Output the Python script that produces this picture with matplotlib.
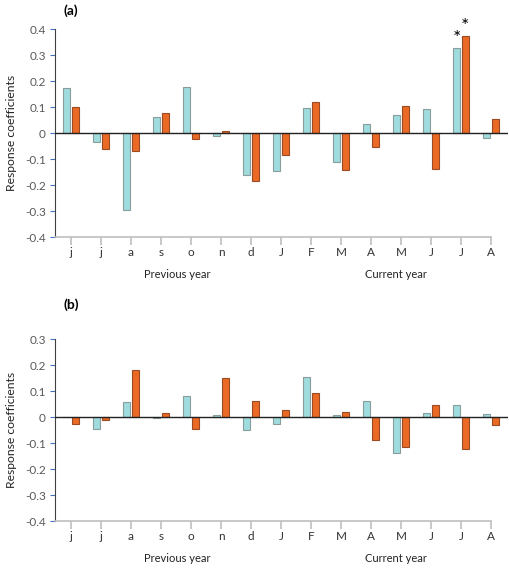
import matplotlib.pyplot as plt
import numpy as np

plt.rcParams['font.family'] = ['Lato', 'DejaVu Sans']

months = ['j', 'j', 'a', 's', 'o', 'n', 'd', 'J', 'F', 'M', 'A', 'M', 'J', 'J', 'A']

# panel (a)
a_cyan = [0.173, -0.033, -0.297, 0.062, 0.178, -0.012, -0.162, -0.147, 0.098,
          -0.112, 0.035, 0.070, 0.091, 0.326, -0.019]
a_orange = [0.100, -0.062, -0.070, 0.078, -0.022, 0.008, -0.185, -0.083, 0.121,
            -0.143, -0.055, 0.103, -0.137, 0.372, 0.052]
a_signif_cyan = [13]
a_signif_orange = [13]

# panel (b)
b_cyan = [0.0, -0.047, 0.056, -0.004, 0.080, 0.009, -0.051, -0.026, 0.153,
          0.009, 0.063, -0.137, 0.014, 0.046, 0.010]
b_orange = [-0.028, -0.013, 0.182, 0.015, -0.047, 0.150, 0.062, 0.026, 0.092,
            0.019, -0.090, -0.117, 0.047, -0.124, -0.032]

cyan = '#9edcdd'
cyan_edge = '#8a9c9c'
orange = '#ea6a25'
orange_edge = '#9a4a25'
grey = '#595959'

W, H = 509, 571
fig = plt.figure(figsize=(W / 100, H / 100), dpi=100)


def panel(top, bottom, ymax, c, o, stars_c=(), stars_o=()):
    left, right = 55, 508
    ax = fig.add_axes([left / W, 1 - bottom / H, (right - left) / W, (bottom - top) / H])
    x = np.arange(len(months))
    w = 0.25
    ax.bar(x - w / 2 - 0.02, c, w, color=cyan, edgecolor=cyan_edge, linewidth=0.8, zorder=2)
    ax.bar(x + w / 2 + 0.02, o, w, color=orange, edgecolor=orange_edge, linewidth=0.8, zorder=2)
    ax.set_xlim(-0.533, 14.57)
    ax.set_ylim(-0.4, ymax)
    ax.axhline(0, color='#222222', lw=1.0, zorder=3)
    for s in ['top', 'right', 'bottom']:
        ax.spines[s].set_visible(False)
    ax.spines['left'].set_color('#404040')
    ax.spines['left'].set_linewidth(0.8)
    ax.plot([-0.533, 14], [-0.4, -0.4], color='#bfbfbf', lw=1.2, clip_on=False, zorder=3)
    yt = np.round(np.arange(-0.4, ymax + 0.01, 0.1), 1)
    ax.set_yticks(yt)
    ax.set_yticklabels(['0' if abs(v) < 1e-9 else ('%.1f' % v) for v in yt])
    ax.tick_params(axis='y', colors='#4472c4', length=3.5, width=0.8, labelsize=8.5,
                   labelcolor=grey, pad=3)
    ax.set_xticks(x)
    ax.set_xticklabels(months)
    ax.tick_params(axis='x', colors='#bfbfbf', length=5.5, width=1.2, labelsize=8.5,
                   labelcolor='#333333', pad=2)
    ax.set_ylabel('Response coefficients', fontsize=8.7, color='#222222', labelpad=6)
    for xc, txt in [(3.53, 'Previous year'), (10.83, 'Current year')]:
        ax.annotate(txt, (xc, -0.4), xytext=(0, -38 * 0.72), textcoords='offset points',
                    ha='center', va='center', fontsize=8, color='#222222',
                    annotation_clip=False)
    for i in stars_c:
        ax.text(i - w / 2 - 0.02, c[i] + 0.005, '*', ha='center', va='bottom', fontsize=14)
    for i in stars_o:
        ax.text(i + w / 2 + 0.02, o[i] + 0.005, '*', ha='center', va='bottom', fontsize=14)
    return ax


ax1 = panel(29, 237, 0.4, a_cyan, a_orange, a_signif_cyan, a_signif_orange)
fig.text(63 / W, 1 - 11 / H, '(a)', fontsize=10, fontweight='bold', va='center')
ax2 = panel(339, 521, 0.3, b_cyan, b_orange)
fig.text(63 / W, 1 - 305 / H, '(b)', fontsize=10, fontweight='bold', va='center')

fig.savefig('out.png', dpi=100)
